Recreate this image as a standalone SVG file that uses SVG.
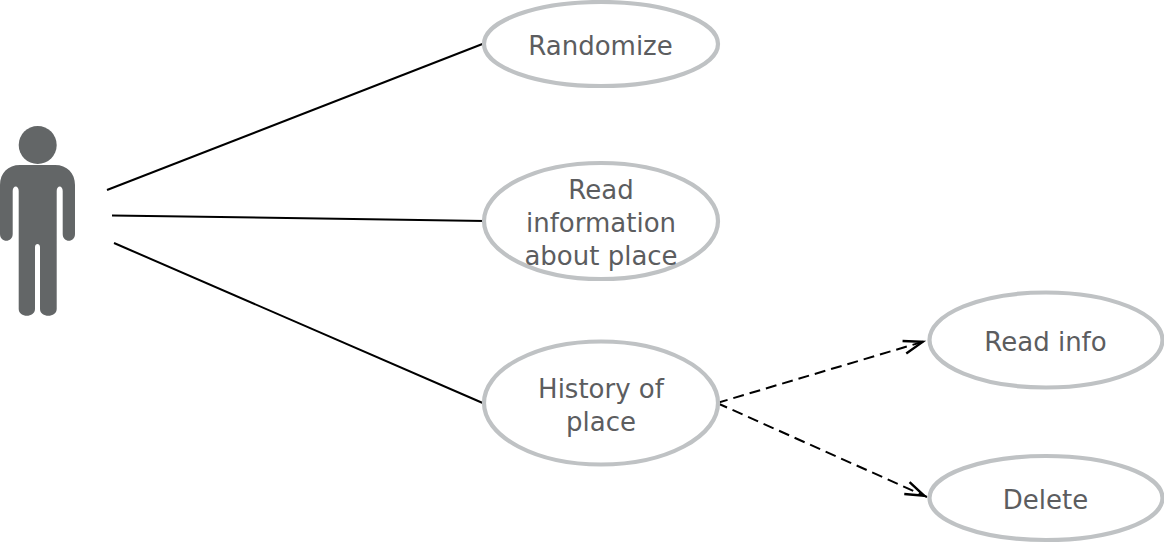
<svg xmlns="http://www.w3.org/2000/svg" width="1164" height="543" viewBox="0 0 1164 543">
<defs>
<marker id="open" markerUnits="userSpaceOnUse" markerWidth="32" markerHeight="30" refX="28" refY="15" orient="auto" viewBox="0 0 32 30">
<path d="M6 8.500L25 15L6 21.500" fill="none" stroke="#000" stroke-width="2.400"/>
</marker>
</defs>
<style>
.uc{fill:none;stroke:#bfc2c4;stroke-width:4.200}
.t{font-family:"DejaVu Sans",sans-serif;font-size:26px;fill:#5c5d5f;text-anchor:middle}
.c{fill:none;stroke:#000;stroke-width:2}
.d{stroke-dasharray:11 6;marker-end:url(#open)}
</style>
<rect width="1164" height="543" fill="#fff"/>
<g id="connectors">
<path class="c" d="M107 190L485 43"/>
<path class="c" d="M112 215.500L485 221"/>
<path class="c" d="M114 243L485 404"/>
<path class="c d" d="M717 403L925.500 341"/>
<path class="c d" d="M717 403L927 497"/>
</g>
<g id="actor">
<circle cx="37.700" cy="145" r="19" fill="#636667"/>
<path fill="#636667" d="M20 165H55C67 165 75 173 75 185V234C75 243 62.700 243 62.700 234V191C62.700 185 56.700 185 56.700 191V309C56.700 318 40 318 40 309V247C40 243 35 243 35 247V309C35 318 18.700 318 18.700 309V191C18.700 185 12.700 185 12.700 191V234C12.700 243 0 243 0 234V185C0 173 8 165 20 165Z"/>
</g>
<g id="randomize">
<ellipse class="uc" cx="601" cy="44" rx="117" ry="42"/>
<text class="t" x="600.500" y="55">Randomize</text>
</g>
<g id="read-information">
<ellipse class="uc" cx="601" cy="221" rx="117" ry="58"/>
<text class="t" x="601" y="199">Read</text>
<text class="t" x="601" y="232">information</text>
<text class="t" x="601" y="265">about place</text>
</g>
<g id="history">
<ellipse class="uc" cx="601" cy="403" rx="117" ry="61.500"/>
<text class="t" x="601" y="398">History of</text>
<text class="t" x="601" y="431">place</text>
</g>
<g id="read-info">
<ellipse class="uc" cx="1046" cy="340" rx="116.500" ry="47.500"/>
<text class="t" x="1045.500" y="351">Read info</text>
</g>
<g id="delete">
<ellipse class="uc" cx="1046" cy="498" rx="116.500" ry="42"/>
<text class="t" x="1045.500" y="509">Delete</text>
</g>
</svg>
